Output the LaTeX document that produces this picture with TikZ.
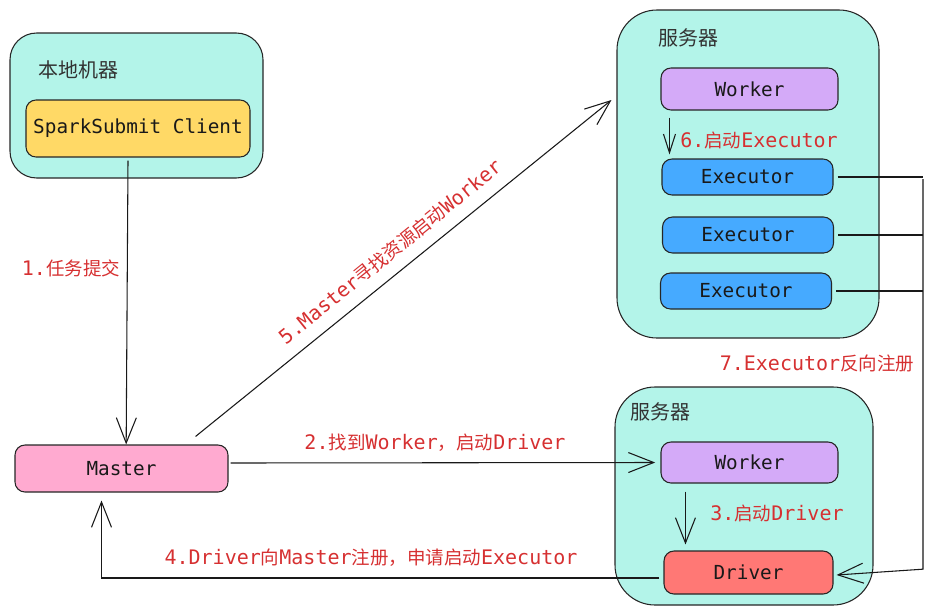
\documentclass[tikz,border=0pt]{standalone}
\usepackage{fontspec}
\setmonofont{DejaVu Sans Mono}
\newfontfamily\cjk[Scale=0.925]{Noto Sans CJK SC}
\newfontfamily\cjktitle{Noto Sans CJK SC}
\usetikzlibrary{arrows.meta}
\definecolor{machinecol}{RGB}{179,244,233}
\definecolor{clientcol}{RGB}{255,217,102}
\definecolor{mastercol}{RGB}{255,170,208}
\definecolor{workercol}{RGB}{212,170,248}
\definecolor{execcol}{RGB}{70,170,255}
\definecolor{drivercol}{RGB}{255,120,117}
\definecolor{stepred}{RGB}{214,48,49}
\newcommand{\zh}[1]{{\cjk #1}}
\tikzstyle{machine}=[draw=black!85, fill=machinecol, line width=0.8pt, inner sep=0pt]
\tikzstyle{title}=[text=black!80, font=\cjktitle\fontsize{15}{17}\selectfont]
\tikzstyle{proc}=[draw=black!85, line width=0.8pt, rounded corners=7.5pt, inner sep=0pt,
  text=black!90, font=\ttfamily\fontsize{14.5}{16}\selectfont]
\tikzstyle{steplbl}=[text=stepred, inner sep=0pt, font=\ttfamily\fontsize{15}{17}\selectfont]
\tikzstyle{flow}=[line width=0.8pt, draw=black!90, -{Straight Barb[length=19pt,width=15pt]}]
\tikzstyle{smallflow}=[line width=0.8pt, draw=black!90, -{Straight Barb[length=14pt,width=9pt]}]

\begin{document}
\begin{tikzpicture}[x=0.75pt, y=-0.75pt]
      \useasboundingbox (0,0) rectangle (937,614);

      % machines
      \node[machine, rounded corners=20pt, minimum width=189.75pt, minimum height=108.75pt]
          (local) at (136.5,105.5) {};
      \node[machine, rounded corners=30pt, minimum width=196.5pt, minimum height=246pt]
          (srvA) at (748,174) {};
      \node[machine, rounded corners=30pt, minimum width=193.5pt, minimum height=163.5pt]
          (srvB) at (744,496) {};
      \node[title] (titleLocal) at (78,70) {本地机器};
      \node[title] (titleA) at (688,38) {服务器};
      \node[title] (titleB) at (660,412) {服务器};

      % processes
      \node[proc, fill=clientcol, minimum width=168pt, minimum height=42.75pt]
          (client) at (138,128.5) {SparkSubmit Client};
      \node[proc, fill=mastercol, minimum width=159.75pt, minimum height=35.25pt]
          (master) at (121.5,468.5) {Master};
      \node[proc, fill=workercol, minimum width=132.75pt, minimum height=31.5pt]
          (workerA) at (749.5,89) {Worker};
      \foreach \n/\x/\y in {A/747.5/177, B/748/235, C/746/291}
        \node[proc, fill=execcol, minimum width=128.25pt, minimum height=27pt]
            (exec\n) at (\x,\y) {Executor};
      \node[proc, fill=workercol, minimum width=132.75pt, minimum height=30.75pt]
          (workerB) at (749.5,462.5) {Worker};
      \node[proc, fill=drivercol, minimum width=126.75pt, minimum height=32.25pt]
          (driver) at (748.5,572.5) {Driver};

      % steps
      \draw[flow] ([shift={(-10,3)}]client.south) -- ([xshift=3.5]master.north);
      \node[steplbl] (step1) at (71,268) {1.\zh{任务提交}};

      \draw[flow] ([shift={(2,-5.5)}]master.east) -- ([xshift=-4]workerB.west);
      \node[steplbl] (step2) at (435,443) {2.\zh{找到}Worker\zh{，启动}Driver};

      \draw[flow] ([shift={(25,8)}]workerB.south west) -- ([shift={(22,-6)}]driver.north west);
      \node[steplbl, anchor=west] (step3) at (710,513) {3.\zh{启动}Driver};

      \draw[flow] ([shift={(-4,5.5)}]driver.west) -| ([shift={(-20,8)}]master.south);
      \node[steplbl] (step4) at (371,558) {4.Driver\zh{向}Master\zh{注册，申请启动}Executor};

      \draw[flow] ([shift={(-33,-8)}]master.north east) -- ([shift={(-5,-74)}]srvA.west)
          node[steplbl, pos=0.5, above=9pt, sloped] (step5) {5.Master\zh{寻找资源启动}Worker};

      \draw[smallflow] ([shift={(9,7)}]workerA.south west) -- ([shift={(8,-4)}]execA.north west);
      \node[steplbl, anchor=west] (step6) at (680,140) {6.\zh{启动}Executor};

      \coordinate (bus) at (923,179);
      \foreach \n in {A,B,C}{
        \draw[line width=0.8pt, draw=black!90] ([xshift=3]exec\n.east) -- (exec\n.east -| bus);
      }
      \draw[flow] (bus) -- ([yshift=2.5]bus |- driver.east) -- ([shift={(3,2.5)}]driver.east);
      \node[steplbl] (step7) at (817,363) {7.Executor\zh{反向注册}};
    \end{tikzpicture}
\end{document}
